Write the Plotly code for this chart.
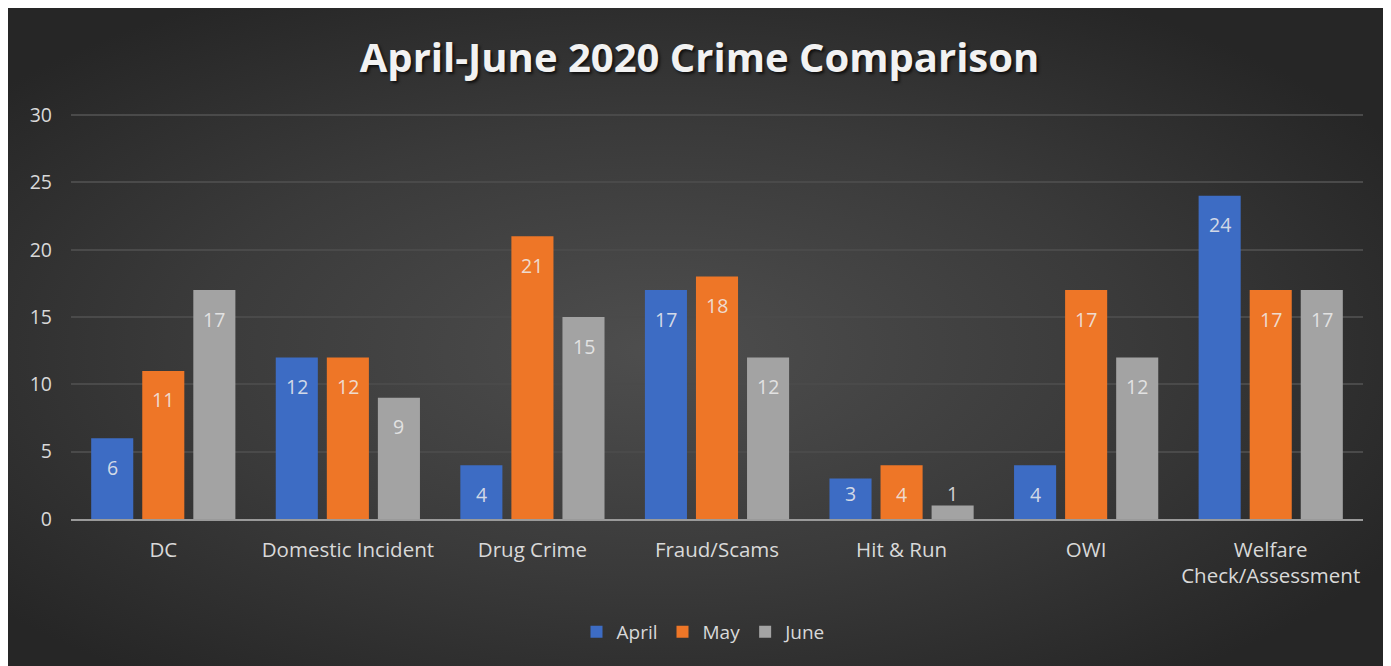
import plotly.graph_objects as go
import urllib.parse

categories = ["DC", "Domestic Incident", "Drug Crime", "Fraud/Scams", "Hit & Run", "OWI",
              "Welfare<br>Check/Assessment"]
april = [6, 12, 4, 17, 3, 4, 24]
may = [11, 12, 21, 18, 4, 17, 17]
june = [17, 9, 15, 12, 1, 12, 17]
series_names = ["April", "May", "June"]
series_values = [april, may, june]
series_colors = ["#3d6cc4", "#ee7627", "#a3a3a3"]
y_ticks = [0, 5, 10, 15, 20, 25, 30]

W, H = 1383, 658
ML, MR, MT, MB = 63, 28, 103, 147
PW, PH = W - ML - MR, H - MT - MB

FONT = "Open Sans"
TXT = "#d9d9d9"

svg = ('<svg xmlns="http://www.w3.org/2000/svg" width="1383" height="658" viewBox="0 0 1383 658" '
       'preserveAspectRatio="none"><defs><radialGradient id="g" cx="0.47" cy="0.52" r="0.62">'
       '<stop offset="0" stop-color="#4e4e4e"/><stop offset="0.55" stop-color="#3a3a3a"/>'
       '<stop offset="1" stop-color="#262626"/></radialGradient></defs>'
       '<rect width="1383" height="658" fill="url(#g)"/></svg>')
bg_uri = "data:image/svg+xml;charset=utf-8," + urllib.parse.quote(svg)

fig = go.Figure()
for name, vals, col in zip(series_names, series_values, series_colors):
    fig.add_trace(go.Bar(
        name=name, x=categories, y=vals,
        marker=dict(color=col, line=dict(width=0)),
        hoverinfo="x+y+name",
    ))

# data labels inside end of bars
annotations = []
n = len(series_names)
for i, vals in enumerate(series_values):
    for cat, v in zip(categories, vals):
        inside = v >= 4
        annotations.append(dict(
            x=cat, y=v if inside else 0, xref="x", yref="y",
            text=str(v), showarrow=False,
            xshift=(i - (n - 1) / 2) * 51.07,
            yshift=-29 if inside else 26,
            yanchor="middle", xanchor="center",
            font=dict(family=FONT, size=19.5, color="rgba(238,238,238,0.85)"),
        ))

fig.update_layout(
    width=W, height=H,
    margin=dict(l=ML, r=MR, t=MT, b=MB, pad=0),
    paper_bgcolor="#2c2c2c",
    plot_bgcolor="rgba(0,0,0,0)",
    barmode="group", bargap=0.17, bargroupgap=0.176,
    font=dict(family=FONT, color=TXT, size=19),
    title=dict(
        text="April-June 2020 Crime Comparison",
        x=0.5, xanchor="center", xref="container",
        y=1 - 50 / H, yanchor="middle", yref="container",
        font=dict(family=FONT, size=40, weight=700, color="#f2f2f2",
                  shadow="2px 2px 3px rgba(0,0,0,0.7)"),
    ),
    xaxis=dict(
        showgrid=False, showline=True, linecolor="#9a9a9a", linewidth=2,
        ticks="", tickfont=dict(family=FONT, size=20.5, color=TXT),
        ticklabelstandoff=11, fixedrange=True,
    ),
    yaxis=dict(
        range=[0, 30.3], tickvals=y_ticks, showgrid=True, gridcolor="#4a4a4a", gridwidth=1.5,
        zeroline=False, showline=False, ticks="",
        tickfont=dict(family=FONT, size=19.5, color=TXT),
        ticklabelstandoff=18, fixedrange=True,
    ),
    legend=dict(
        orientation="h", x=(696 - ML) / PW, xanchor="center",
        y=-(624 - (MT + PH)) / PH, yanchor="middle",
        font=dict(family=FONT, size=19, color=TXT),
        itemwidth=30, bgcolor="rgba(0,0,0,0)",
    ),
    annotations=annotations,
    images=[dict(
        source=bg_uri, xref="paper", yref="paper",
        x=-ML / PW, y=1 + MT / PH, sizex=W / PW, sizey=H / PH,
        xanchor="left", yanchor="top", sizing="stretch", layer="below",
    )],
    showlegend=True,
)

fig.write_html("out.html")
